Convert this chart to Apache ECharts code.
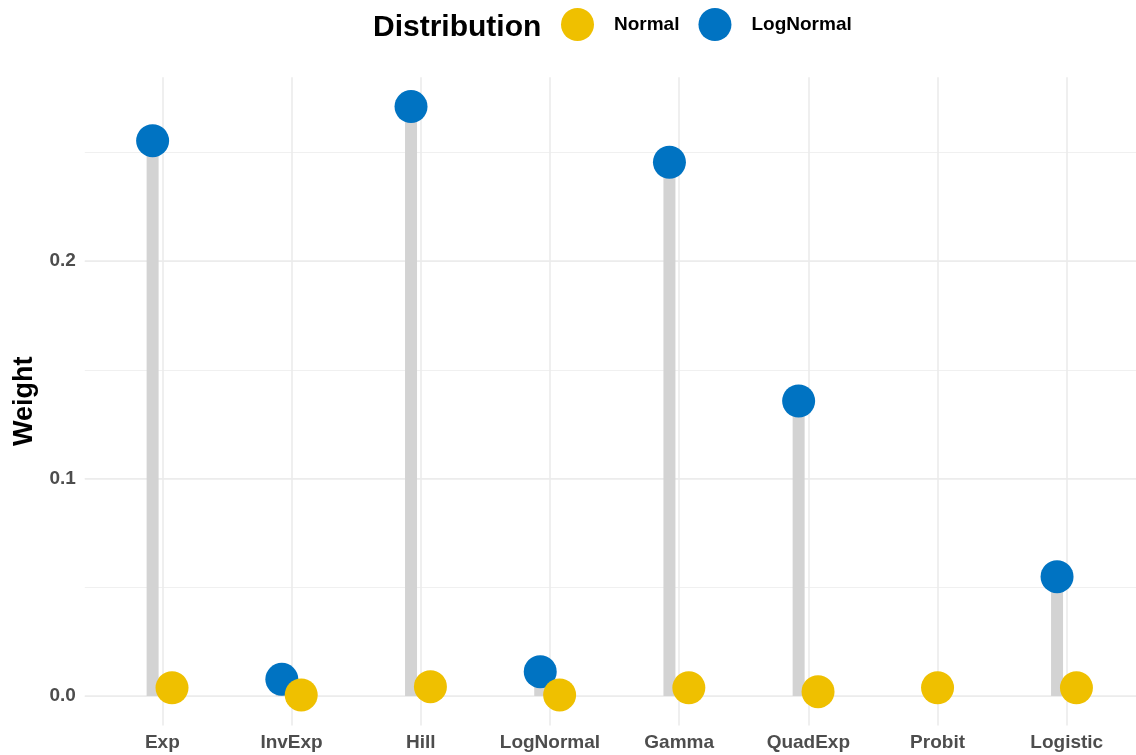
<!DOCTYPE html>
<html>
<head>
<meta charset="utf-8">
<style>
  html, body { margin: 0; padding: 0; background: #ffffff; }
  #chart { width: 1136px; height: 755px; }
</style>
<script src="https://cdn.jsdelivr.net/npm/echarts@6/dist/echarts.min.js"></script>
</head>
<body>
<div id="chart"></div>
<script>
// ---- data ----
const categories = ['Exp', 'InvExp', 'Hill', 'LogNormal', 'Gamma', 'QuadExp', 'Probit', 'Logistic'];
const normalWeights = [0.0038, 0.0005, 0.0043, 0.0005, 0.0038, 0.0020, 0.0038, 0.0038];
const logNormalWeights = [0.2554, 0.0077, 0.2711, 0.0112, 0.2455, 0.1357, null, 0.0549];
const yTickLabels = ['0.0', '0.1', '0.2'];
const seriesNames = ['Normal', 'LogNormal'];

// ---- style ----
const FONT = "'Liberation Sans', Arial, Helvetica, sans-serif";
const COLOR_NORMAL = '#EFC000';
const COLOR_LOGNORMAL = '#0073C2';
const DODGE = 9.7;     // px, half of dodge width
const SEG_W = 12;      // px, segment width
const GRID = '#ebebeb';

const chart = echarts.init(document.getElementById('chart'), null, { renderer: 'canvas' });

function hasVal(v) { return v !== null && v !== undefined && !isNaN(v); }

const segData = categories.map((c, i) => [i, normalWeights[i], logNormalWeights[i]]);

const normalData = categories.map((c, i) => ({
  value: [i, normalWeights[i]],
  symbolOffset: [hasVal(logNormalWeights[i]) ? DODGE : 0, 0]
})).filter(d => hasVal(d.value[1]));

const logNormalData = categories.map((c, i) => ({
  value: [i, logNormalWeights[i]],
  symbolOffset: [hasVal(normalWeights[i]) ? -DODGE : 0, 0]
})).filter(d => hasVal(d.value[1]));

const yMin = -0.01355, yMax = 0.2846;

const option = {
  backgroundColor: '#ffffff',
  animation: false,
  textStyle: { fontFamily: FONT },
  title: {
    text: 'Distribution',
    left: 373,
    top: 13,
    padding: 0,
    textStyle: { fontFamily: FONT, fontSize: 30, fontWeight: 'bold', color: '#000000' }
  },
  legend: {
    data: seriesNames,
    left: 561,
    top: 8,
    padding: 0,
    icon: 'circle',
    itemWidth: 33,
    itemHeight: 33,
    itemGap: 19,
    textStyle: { fontFamily: FONT, fontSize: 19, fontWeight: 'bold', color: '#000000', padding: [0, 0, 0, 15] }
  },
  grid: { left: 84.8, width: 1051.2, top: 77.2, height: 648.3, containLabel: false },
  xAxis: {
    type: 'value',
    min: -0.6,
    max: 7.536,
    splitNumber: 8,
    axisLine: { show: false },
    axisTick: { show: false },
    axisLabel: {
      showMinLabel: false,
      showMaxLabel: false,
      margin: 8,
      fontFamily: FONT, fontSize: 19, fontWeight: 'bold', color: '#4d4d4d',
      formatter: v => (Number.isInteger(v) && categories[v] !== undefined) ? categories[v] : ''
    },
    splitLine: { show: true, showMinLine: false, showMaxLine: false, lineStyle: { color: GRID, width: 1.6 } }
  },
  yAxis: [
    {
      type: 'value',
      min: yMin,
      max: yMax,
      splitNumber: 6,
      axisLine: { show: false },
      axisTick: { show: false },
      axisLabel: { show: false },
      splitLine: { show: true, showMinLine: false, showMaxLine: false, lineStyle: { color: '#f0f0f0', width: 1.1 } }
    },
    {
      type: 'value',
      position: 'left',
      min: yMin,
      max: yMax,
      splitNumber: 3,
      name: 'Weight',
      nameLocation: 'middle',
      nameRotate: 90,
      nameGap: 42,
      nameTextStyle: { fontFamily: FONT, fontSize: 27, fontWeight: 'bold', color: '#000000' },
      axisLine: { show: false },
      axisTick: { show: false },
      axisLabel: {
        showMinLabel: false,
        showMaxLabel: false,
        margin: 9,
        fontFamily: FONT, fontSize: 19, fontWeight: 'bold', color: '#4d4d4d',
        formatter: v => {
          const k = Math.round(v * 10);
          return (Math.abs(v * 10 - k) < 1e-6 && yTickLabels[k] !== undefined) ? yTickLabels[k] : '';
        }
      },
      splitLine: { show: true, showMinLine: false, showMaxLine: false, lineStyle: { color: GRID, width: 1.6 } }
    }
  ],
  series: [
    {
      type: 'custom',
      name: 'segments',
      yAxisIndex: 1,
      silent: true,
      z: 1,
      encode: { x: 0, y: 2 },
      data: segData,
      renderItem: function (params, api) {
        const i = api.value(0);
        const n = api.value(1);
        const l = api.value(2);
        const both = hasVal(n) && hasVal(l);
        const children = [];
        const add = (v, off) => {
          if (!hasVal(v)) return;
          const base = api.coord([i, 0]);
          const top = api.coord([i, v]);
          children.push({
            type: 'rect',
            shape: { x: base[0] + off - SEG_W / 2, y: top[1], width: SEG_W, height: base[1] - top[1] },
            style: { fill: '#d3d3d3' }
          });
        };
        add(l, both ? -DODGE : 0);
        add(n, both ? DODGE : 0);
        return { type: 'group', children: children };
      }
    },
    {
      type: 'scatter',
      name: 'LogNormal',
      yAxisIndex: 1,
      z: 3,
      symbol: 'circle',
      symbolSize: 33,
      itemStyle: { color: COLOR_LOGNORMAL, opacity: 1 },
      data: logNormalData
    },
    {
      type: 'scatter',
      name: 'Normal',
      yAxisIndex: 1,
      z: 4,
      symbol: 'circle',
      symbolSize: 33,
      itemStyle: { color: COLOR_NORMAL, opacity: 1 },
      data: normalData
    }
  ]
};

chart.setOption(option);
</script>
</body>
</html>
